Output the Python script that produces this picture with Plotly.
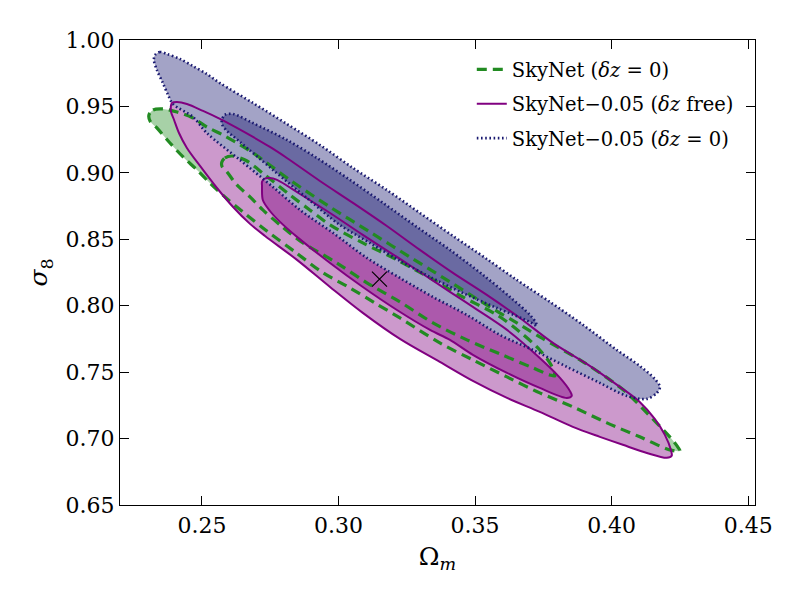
import plotly.graph_objects as go

# ---------------- data ----------------
# Omega_m / sigma_8 contour outlines: upper edge left->right, then lower edge right->left

# SkyNet (dz = 0): green, 95% and 68%
green_outer_x = [0.2306, 0.2321, 0.2357, 0.2409, 0.2467, 0.2518, 0.2577, 0.2628, 0.2687, 0.2822,
                 0.2969, 0.3115, 0.3261, 0.3408, 0.3554, 0.3653, 0.3737, 0.3884, 0.3994, 0.4056,
                 0.4129, 0.4213, 0.4242,
                 0.4250, 0.4213, 0.4103, 0.3983, 0.3858, 0.3737, 0.3617, 0.3492, 0.3371, 0.3225,
                 0.3133, 0.3042, 0.2939, 0.2841, 0.2742, 0.2650, 0.2584, 0.2529, 0.2482, 0.2431,
                 0.2383, 0.2335, 0.2310]
green_outer_y = [0.9436, 0.9473, 0.9481, 0.9458, 0.9413, 0.9345, 0.9285, 0.9225, 0.9150, 0.8947,
                 0.8743, 0.8555, 0.8367, 0.8179, 0.7991, 0.7871, 0.7765, 0.7592, 0.7442, 0.7344,
                 0.7193, 0.7013, 0.6938,
                 0.6907, 0.6915, 0.7013, 0.7118, 0.7239, 0.7344, 0.7464, 0.7592, 0.7720, 0.7908,
                 0.8021, 0.8134, 0.8254, 0.8405, 0.8555, 0.8706, 0.8819, 0.8924, 0.9022, 0.9120,
                 0.9225, 0.9338, 0.9391]

green_inner_x = [0.2573, 0.2584, 0.2610, 0.2658, 0.2731, 0.2822, 0.2895, 0.2969, 0.3089, 0.3214,
                 0.3335, 0.3455, 0.3580, 0.3664, 0.3737, 0.3778, 0.3792,
                 0.3774, 0.3712, 0.3591, 0.3470, 0.3346, 0.3225, 0.3104, 0.2994, 0.2859, 0.2786,
                 0.2723, 0.2676, 0.2628, 0.2592, 0.2573]
green_inner_y = [0.9082, 0.9112, 0.9127, 0.9097, 0.8984, 0.8834, 0.8721, 0.8608, 0.8473, 0.8345,
                 0.8209, 0.8066, 0.7931, 0.7803, 0.7667, 0.7555, 0.7472,
                 0.7479, 0.7532, 0.7637, 0.7743, 0.7871, 0.8029, 0.8172, 0.8322, 0.8488, 0.8608,
                 0.8721, 0.8819, 0.8909, 0.9007, 0.9052]

# SkyNet-0.05 (dz free): purple, 95% and 68%
purple_outer_x = [0.2387, 0.2390, 0.2409, 0.2445, 0.2504, 0.2566, 0.2628, 0.2687, 0.2749, 0.2811,
                  0.2932, 0.3053, 0.3177, 0.3298, 0.3419, 0.3543, 0.3664, 0.3785, 0.3909, 0.4030,
                  0.4103, 0.4158, 0.4195, 0.4217, 0.4220,
                  0.4202, 0.4129, 0.4041, 0.3957, 0.3858, 0.3737, 0.3617, 0.3492, 0.3371, 0.3225,
                  0.3089, 0.2969, 0.2848, 0.2731, 0.2676, 0.2614, 0.2555, 0.2493, 0.2445, 0.2416,
                  0.2398, 0.2387]
purple_outer_y = [0.9511, 0.9526, 0.9533, 0.9518, 0.9466, 0.9406, 0.9338, 0.9270, 0.9195, 0.9112,
                  0.8939, 0.8774, 0.8600, 0.8420, 0.8247, 0.8081, 0.7908, 0.7720, 0.7562, 0.7389,
                  0.7276, 0.7148, 0.7028, 0.6915, 0.6870,
                  0.6855, 0.6892, 0.6953, 0.7013, 0.7088, 0.7201, 0.7306, 0.7434, 0.7577, 0.7750,
                  0.7946, 0.8141, 0.8345, 0.8525, 0.8616, 0.8743, 0.8886, 0.9052, 0.9187, 0.9300,
                  0.9398, 0.9458]

purple_inner_x = [0.2720, 0.2727, 0.2749, 0.2775, 0.2859, 0.2969, 0.3089, 0.3214, 0.3298, 0.3408,
                  0.3492, 0.3617, 0.3737, 0.3811, 0.3847, 0.3854,
                  0.3836, 0.3737, 0.3617, 0.3492, 0.3408, 0.3335, 0.3214, 0.3089, 0.2969, 0.2848,
                  0.2786, 0.2749, 0.2723, 0.2720]
purple_inner_y = [0.8932, 0.8954, 0.8962, 0.8947, 0.8841, 0.8698, 0.8533, 0.8367, 0.8254, 0.8104,
                  0.7991, 0.7818, 0.7607, 0.7457, 0.7359, 0.7321,
                  0.7306, 0.7381, 0.7494, 0.7630, 0.7743, 0.7818, 0.7968, 0.8141, 0.8322, 0.8518,
                  0.8631, 0.8713, 0.8796, 0.8902]

# SkyNet-0.05 (dz = 0): navy, 95% and 68%
navy_outer_x = [0.2328, 0.2346, 0.2372, 0.2420, 0.2467, 0.2518, 0.2566, 0.2687, 0.2811, 0.2932,
                0.3053, 0.3177, 0.3298, 0.3419, 0.3543, 0.3653, 0.3774, 0.3895, 0.4019, 0.4103,
                0.4158, 0.4177,
                0.4166, 0.4129, 0.4056, 0.3957, 0.3836, 0.3712, 0.3591, 0.3470, 0.3346, 0.3225,
                0.3104, 0.2980, 0.2859, 0.2760, 0.2639, 0.2518, 0.2467, 0.2394, 0.2376, 0.2357,
                0.2335, 0.2324]
navy_outer_y = [0.9887, 0.9910, 0.9895, 0.9857, 0.9804, 0.9744, 0.9676, 0.9526, 0.9368, 0.9210,
                0.9037, 0.8871, 0.8698, 0.8525, 0.8352, 0.8194, 0.8029, 0.7856, 0.7667, 0.7547,
                0.7449, 0.7389,
                0.7344, 0.7299, 0.7321, 0.7419, 0.7540, 0.7667, 0.7780, 0.7931, 0.8066, 0.8209,
                0.8360, 0.8548, 0.8721, 0.8894, 0.9097, 0.9300, 0.9421, 0.9518, 0.9586, 0.9676,
                0.9774, 0.9850]

navy_inner_x = [0.2573, 0.2584, 0.2614, 0.2687, 0.2811, 0.2921, 0.3042, 0.3163, 0.3287, 0.3408,
                0.3529, 0.3628, 0.3701, 0.3723,
                0.3726, 0.3701, 0.3580, 0.3455, 0.3335, 0.3225, 0.3115, 0.3005, 0.2884, 0.2760,
                0.2639, 0.2588, 0.2573]
navy_inner_y = [0.9398, 0.9436, 0.9443, 0.9375, 0.9248, 0.9112, 0.8947, 0.8774, 0.8593, 0.8420,
                0.8232, 0.8066, 0.7931, 0.7871,
                0.7848, 0.7878, 0.7983, 0.8096, 0.8217, 0.8337, 0.8473, 0.8608, 0.8811, 0.9022,
                0.9233, 0.9323, 0.9368]

fiducial_x = [0.315]
fiducial_y = [0.820]

series_names = ["SkyNet (<i>δz</i> = 0)",
                "SkyNet−0.05 (<i>δz</i> free)",
                "SkyNet−0.05 (<i>δz</i> = 0)"]

x_ticks = [0.25, 0.30, 0.35, 0.40, 0.45]
y_ticks = [0.65, 0.70, 0.75, 0.80, 0.85, 0.90, 0.95, 1.00]

# ---------------- styles ----------------
FONT = "DejaVu Serif"
sets = [
    # (outer x, outer y, inner x, inner y, outer fill, inner fill, line color, dash, width, name)
    (green_outer_x, green_outer_y, green_inner_x, green_inner_y,
     "#a7d1a7", "#6fac6f", "#228b22", "10px,6px", 3.2, series_names[0]),
    (purple_outer_x, purple_outer_y, purple_inner_x, purple_inner_y,
     "#cc99cc", "#ac59ac", "#800080", "solid", 2.0, series_names[1]),
    (navy_outer_x, navy_outer_y, navy_inner_x, navy_inner_y,
     "#a3a3c6", "#6a6aa2", "#191970", "1.6px,2.6px", 2.6, series_names[2]),
]

fig = go.Figure()


def closed(a):
    return list(a) + [a[0]]


# fills first (opaque, drawn in order)
for ox, oy, ix, iy, ofill, ifill, lc, dash, lw, name in sets:
    for xs, ys, fc in ((ox, oy, ofill), (ix, iy, ifill)):
        fig.add_trace(go.Scatter(
            x=closed(xs), y=closed(ys), mode="lines", fill="toself", fillcolor=fc,
            line=dict(width=0, shape="spline", smoothing=0.9), hoverinfo="skip",
            showlegend=False))

# then outlines on top
for ox, oy, ix, iy, ofill, ifill, lc, dash, lw, name in sets:
    fig.add_trace(go.Scatter(
        x=closed(ox), y=closed(oy), mode="lines", name=name, legendgroup=name,
        line=dict(color=lc, width=lw, dash=dash, shape="spline", smoothing=0.9),
        showlegend=True))
    fig.add_trace(go.Scatter(
        x=closed(ix), y=closed(iy), mode="lines", name=name, legendgroup=name,
        line=dict(color=lc, width=lw, dash=dash, shape="spline", smoothing=0.9),
        showlegend=False))

fig.add_trace(go.Scatter(
    x=fiducial_x, y=fiducial_y, mode="markers", showlegend=False,
    marker=dict(symbol="x-thin", size=15, line=dict(color="black", width=1.2))))

axis_common = dict(
    showline=True, linecolor="black", linewidth=1.2, mirror="ticks",
    ticks="inside", ticklen=9, tickwidth=1, tickcolor="black",
    showgrid=False, zeroline=False, tickformat=".2f",
    tickfont=dict(family=FONT, size=22, color="black"),
)

fig.update_layout(
    width=800, height=600,
    margin=dict(l=112, r=53, t=32, b=103),
    paper_bgcolor="white", plot_bgcolor="white",
    xaxis=dict(range=[0.22, 0.4525], tickvals=x_ticks,
               title=dict(text="Ω<sub><i>m</i></sub>", font=dict(family=FONT, size=25, color="black"),
                          standoff=10),
               **axis_common),
    yaxis=dict(range=[0.65, 1.0], tickvals=y_ticks,
               title=dict(text="<i>σ</i><sub>8</sub>", font=dict(family=FONT, size=25, color="black"),
                          standoff=10),
               **axis_common),
    legend=dict(x=0.554, y=0.978, xanchor="left", yanchor="top",
                bgcolor="rgba(0,0,0,0)", borderwidth=0,
                font=dict(family=FONT, size=19.5, color="black"),
                tracegroupgap=6, itemwidth=30),
)

fig.write_html("out.html")
